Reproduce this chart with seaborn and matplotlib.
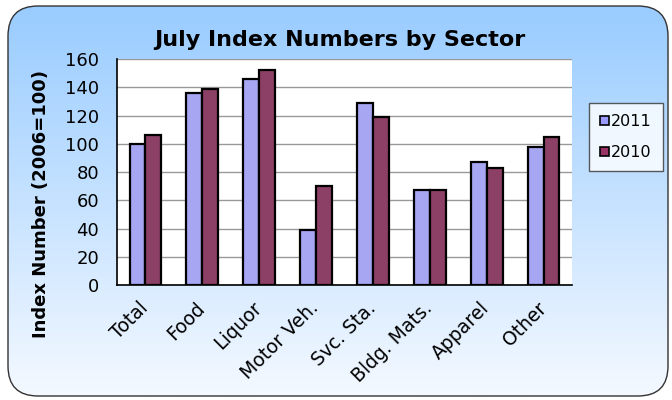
import numpy as np
import pandas as pd
import matplotlib
matplotlib.use("Agg")
import matplotlib.pyplot as plt
import matplotlib.transforms as mtransforms
import seaborn as sns
from matplotlib.patches import FancyBboxPatch, Patch
from matplotlib.colors import LinearSegmentedColormap

categories = ["Total", "Food", "Liquor", "Motor Veh.", "Svc. Sta.", "Bldg. Mats.", "Apparel", "Other"]
values_2011 = [100, 136, 146, 39, 129, 67, 87, 98]
values_2010 = [106, 139, 152, 70, 119, 67, 83, 105]
series = ["2011", "2010"]
colors = {"2011": "#9999FF", "2010": "#993366"}
yticks = [0, 20, 40, 60, 80, 100, 120, 140, 160]

df = pd.DataFrame({
    "Sector": categories * 2,
    "Year": ["2011"] * len(categories) + ["2010"] * len(categories),
    "Value": values_2011 + values_2010,
})

sns.set_theme(style="white")
plt.rcParams["font.family"] = ["DejaVu Sans"]
plt.rcParams["text.color"] = "black"
plt.rcParams["axes.labelcolor"] = "black"
plt.rcParams["xtick.color"] = "black"
plt.rcParams["ytick.color"] = "black"

fig = plt.figure(figsize=(6.72, 4.0), dpi=100)
fig.patch.set_facecolor("white")

# background rounded gradient panel
bg = fig.add_axes([0, 0, 1, 1], zorder=-10)
bg.set_xlim(0, 672)
bg.set_ylim(400, 0)
bg.axis("off")
cmap = LinearSegmentedColormap.from_list("bgc", ["#99CCFF", "#C6E2FF", "#F4F9FF"])
grad = np.linspace(0, 1, 256).reshape(-1, 1)
im = bg.imshow(grad, cmap=cmap, aspect="auto", extent=[8, 668, 396, 6], zorder=0)
box = FancyBboxPatch((8, 6), 660, 390, boxstyle="round,pad=0,rounding_size=30",
                     facecolor="none", edgecolor="#333333", linewidth=1.0, zorder=2)
bg.add_patch(box)
im.set_clip_path(box)

ax = fig.add_axes([117 / 672, 1 - 285 / 400, (572 - 117) / 672, (285 - 59) / 400])
ax.set_facecolor("white")
sns.barplot(data=df, x="Sector", y="Value", hue="Year", hue_order=series,
            palette=colors, width=0.56, gap=0, edgecolor="black", linewidth=1.6,
            ax=ax, legend=False)

ax.set_ylim(0, 160)
ax.set_xlim(-0.5, len(categories) - 0.5)
ax.set_yticks(yticks)
ax.set_yticklabels([str(v) for v in yticks], fontsize=13)
ax.yaxis.grid(True, color="#999999", linewidth=1.0)
ax.set_axisbelow(True)

ax.set_xticks(range(len(categories)))
ax.set_xticklabels(categories, rotation=45, ha="right", rotation_mode="anchor", fontsize=13.5)
ax.tick_params(axis="x", which="major", length=0, pad=9)
ax.set_xticks(np.arange(-0.5, len(categories), 1.0), minor=True)
ax.tick_params(axis="x", which="minor", length=5, width=1, color="black", direction="out")
ax.tick_params(axis="y", length=5.5, width=1, color="black", direction="out", pad=7.5)
offset = mtransforms.ScaledTranslation(-7 / 100, -1 / 100, fig.dpi_scale_trans)
for lbl in ax.get_xticklabels():
    lbl.set_transform(lbl.get_transform() + offset)

for s in ["left", "bottom"]:
    ax.spines[s].set_color("black")
    ax.spines[s].set_linewidth(1.2)
for s in ["top", "right"]:
    ax.spines[s].set_visible(False)

ax.set_xlabel("")
ax.set_ylabel("Index Number (2006=100)", fontsize=13, fontweight="bold")
ax.yaxis.set_label_coords((50 - 117) / 455, (285 - 204) / 226)

fig.text(340 / 672, 1 - 40 / 400, "July Index Numbers by Sector", ha="center", va="center",
         fontsize=16, fontweight="bold")

handles = [Patch(facecolor=colors[s], edgecolor="black", linewidth=1.2) for s in series]
leg = fig.legend(handles, series, loc="center", bbox_to_anchor=(626 / 672, 1 - 137 / 400),
                 frameon=True, fancybox=False, fontsize=11.5, handlelength=0.55, handleheight=0.55,
                 handletextpad=0.15, labelspacing=1.0, borderpad=0.7, borderaxespad=0)
leg.get_frame().set_edgecolor("#333333")
leg.get_frame().set_linewidth(1.0)
leg.get_frame().set_facecolor("white")

fig.savefig("out.png", dpi=100)
